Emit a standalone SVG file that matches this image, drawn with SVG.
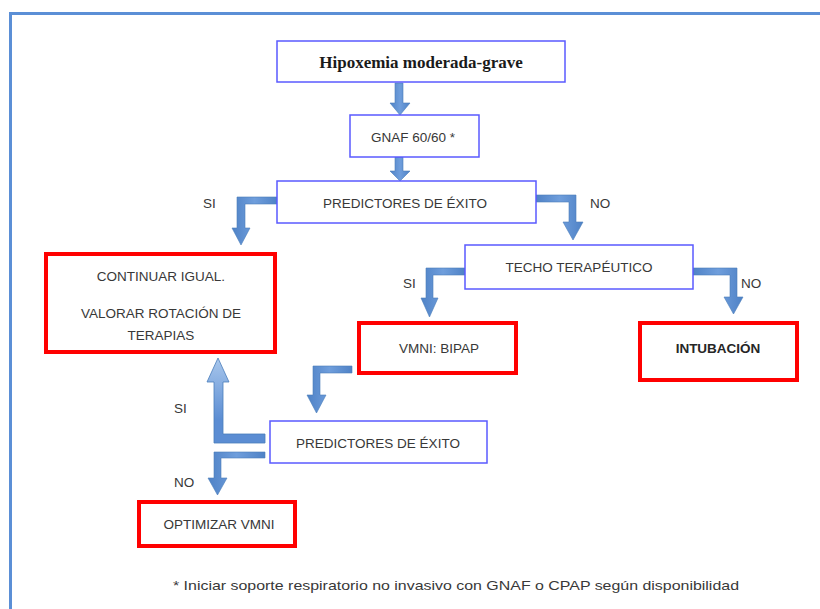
<svg xmlns="http://www.w3.org/2000/svg" width="820" height="609" viewBox="0 0 820 609">
<defs>
<style>
.bb{fill:#fff;stroke:#5a5aff;stroke-width:1.5}
.rb{fill:#fff;stroke:#ff0000;stroke-width:4}
.t{font-family:"Liberation Sans",Arial,sans-serif;font-size:13.5px;fill:#383838;text-anchor:middle}
.tb{font-weight:bold;fill:#262626}
.lbl{font-family:"Liberation Sans",Arial,sans-serif;font-size:13.5px;fill:#383838}
.ar{fill:url(#ag);stroke:#4a7ebb;stroke-width:0.6}
</style>
<linearGradient id="ag" x1="0" y1="0" x2="1" y2="0">
<stop offset="0" stop-color="#4f82c6"/>
<stop offset="0.5" stop-color="#6f9edc"/>
<stop offset="1" stop-color="#4f82c6"/>
</linearGradient>
<linearGradient id="up" x1="0" y1="358" x2="0" y2="420" gradientUnits="userSpaceOnUse">
<stop offset="0" stop-color="#a9c7ec"/>
<stop offset="1" stop-color="#5b8dd3"/>
</linearGradient>
</defs>
<rect x="10.5" y="13.5" width="900" height="700" fill="none" stroke="#5b8fd6" stroke-width="3"/>
<g id="connectors">
<path class="ar" d="M395,83 L403,83 L403,103 L410,103 L400,115 L390,103 L395,103 Z"/>
<path class="ar" d="M395,157 L403,157 L403,171 L410,171 L400,181 L390,171 L395,171 Z"/>
<path class="ar" d="M277,197 L237,197 L237,228 L232,228 L241,245 L250,228 L245,228 L245,204 L277,204 Z"/>
<path class="ar" d="M536,195 L576,195 L576,222 L583,222 L573,240 L563,222 L569,222 L569,202 L536,202 Z"/>
<path class="ar" d="M465,268 L426,268 L426,298 L421,298 L429.5,317 L438,298 L433,298 L433,275 L465,275 Z"/>
<path class="ar" d="M693,268 L737,268 L737,297 L743,297 L733.5,314 L724,297 L730,297 L730,275 L693,275 Z"/>
<path class="ar" d="M352,366 L313,366 L313,395 L307,395 L316.5,413 L326,395 L320,395 L320,373 L352,373 Z"/>
<path d="M265,434 L223,434 L223,382 L229,382 L218,358 L207,382 L214,382 L214,443 L265,443 Z" fill="url(#up)" stroke="#4a7ebb" stroke-width="0.8"/>
<path class="ar" d="M265,452 L214,452 L214,478 L208,478 L217.5,495 L227,478 L221,478 L221,458 L265,458 Z"/>
<text class="lbl" x="203" y="208">SI</text>
<text class="lbl" x="590" y="208">NO</text>
<text class="lbl" x="403" y="288">SI</text>
<text class="lbl" x="741" y="288">NO</text>
<text class="lbl" x="174" y="413">SI</text>
<text class="lbl" x="174" y="487">NO</text>
</g>
<g id="n1"><rect class="bb" x="277" y="41" width="288" height="41"/><text class="t tb" x="421" y="68" style="font-family:'Liberation Serif','Times New Roman',serif;font-size:17px;fill:#1a1a1a">Hipoxemia moderada-grave</text></g>
<g id="n2"><rect class="bb" x="350" y="115" width="129" height="42"/><text class="t" x="413" y="142">GNAF 60/60 *</text></g>
<g id="n3"><rect class="bb" x="277" y="181" width="259" height="42"/><text class="t" x="405" y="208">PREDICTORES DE ÉXITO</text></g>
<g id="n4"><rect class="rb" x="46" y="254" width="229" height="98"/><text class="t" x="161" y="281">CONTINUAR IGUAL.</text><text class="t" x="161" y="318">VALORAR ROTACIÓN DE</text><text class="t" x="161" y="340">TERAPIAS</text></g>
<g id="n5"><rect class="bb" x="465" y="245" width="228" height="44"/><text class="t" x="579" y="272">TECHO TERAPÉUTICO</text></g>
<g id="n6"><rect class="rb" x="359" y="323" width="157" height="50"/><text class="t" x="439" y="353">VMNI: BIPAP</text></g>
<g id="n7"><rect class="rb" x="640" y="323" width="157" height="57"/><text class="t tb" x="718" y="353">INTUBACIÓN</text></g>
<g id="n8"><rect class="bb" x="270" y="421" width="217" height="42"/><text class="t" x="378" y="448">PREDICTORES DE ÉXITO</text></g>
<g id="n9"><rect class="rb" x="139" y="502" width="156" height="44"/><text class="t" x="219" y="529">OPTIMIZAR VMNI</text></g>
<text class="t" x="456" y="590" style="font-size:13.5px" textLength="566" lengthAdjust="spacingAndGlyphs">* Iniciar soporte respiratorio no invasivo con GNAF o CPAP según disponibilidad</text>
</svg>
